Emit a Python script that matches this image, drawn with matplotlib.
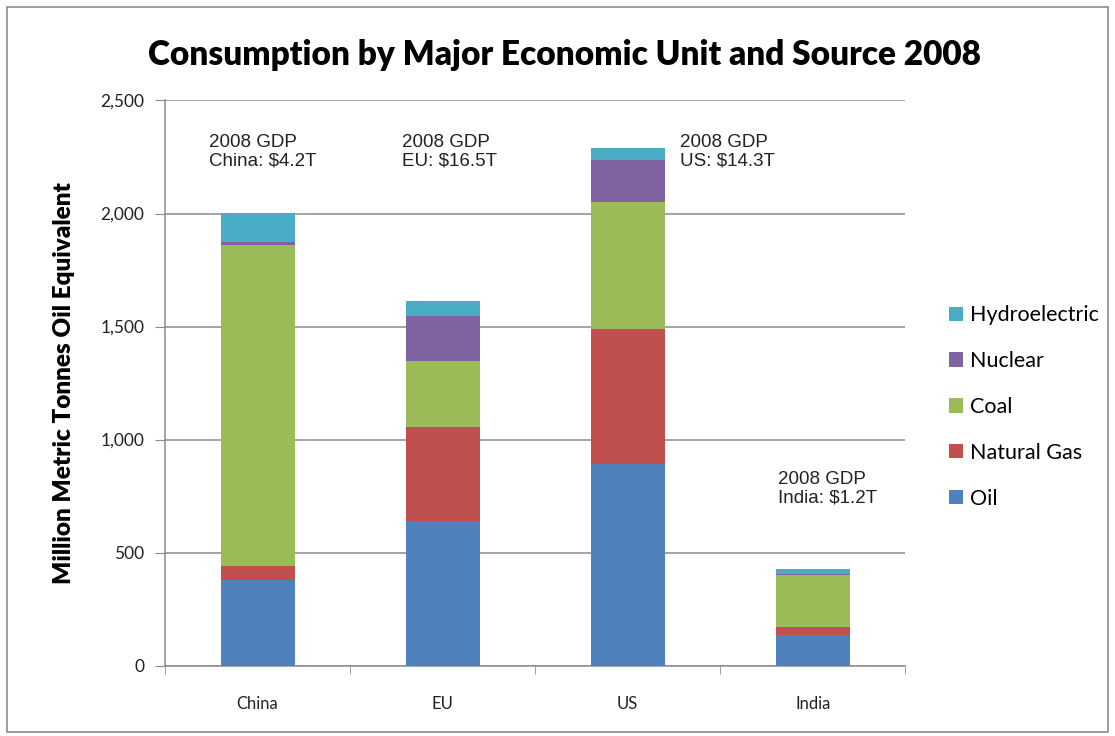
import matplotlib.pyplot as plt
from matplotlib.patches import Rectangle
import numpy as np

plt.rcParams['font.family'] = ['Lato', 'DejaVu Sans']

units = ["China", "EU", "US", "India"]
sources = ["Oil", "Natural Gas", "Coal", "Nuclear", "Hydroelectric"]
oil = [379, 640, 890, 135]
natural_gas = [63, 416, 600, 36]
coal = [1418, 293, 560, 231]
nuclear = [15, 199, 187, 4]
hydro = [127, 66, 53, 22]
gdp_notes = ["2008 GDP\nChina: $4.2T", "2008 GDP\nEU: $16.5T",
             "2008 GDP\nUS: $14.3T", "2008 GDP\nIndia: $1.2T"]
note_x = [-0.26, 0.78, 2.28, 2.81]
note_y = [2350, 2350, 2350, 860]

colors = ["#4F81BD", "#C0504D", "#9BBB59", "#8064A2", "#4BACC6"]
series = [oil, natural_gas, coal, nuclear, hydro]

fig = plt.figure(figsize=(11.15, 7.36), dpi=100)
fig.patches.append(Rectangle((0.006, 0.006), 0.988, 0.985, transform=fig.transFigure,
                             fill=False, edgecolor="#8c8c8c", linewidth=1.2))
ax = fig.add_axes([0.148, 0.0955, 0.664, 0.768])

x = np.arange(len(units))
bottom = np.zeros(len(units))
bars = []
for vals, name, col in zip(series, sources, colors):
    b = ax.bar(x, vals, width=0.4, bottom=bottom, color=col, label=name, zorder=3)
    bars.append(b)
    bottom += np.array(vals)

ax.set_xlim(-0.5, 3.5)
ax.set_ylim(0, 2500)
ax.set_yticks(range(0, 2501, 500))
ax.set_yticklabels([f"{v:,}" for v in range(0, 2501, 500)], fontsize=12.5, color="#222222")
ax.yaxis.grid(True, color="#8c8c8c", linewidth=1.1, zorder=0)
ax.set_xticks(x)
ax.set_xticklabels(units, fontsize=12, color="#222222")
ax.set_xticks(np.arange(-0.5, 4, 1), minor=True)
ax.tick_params(axis="x", which="major", length=0, pad=22)
ax.tick_params(axis="x", which="minor", length=6, color="#8c8c8c", direction="out")
ax.tick_params(axis="y", length=7, color="#8c8c8c", direction="out", pad=8)
for s in ["top", "right"]:
    ax.spines[s].set_visible(False)
for s in ["left", "bottom"]:
    ax.spines[s].set_color("#8c8c8c")
    ax.spines[s].set_linewidth(1.1)

ax.set_ylabel("Million Metric Tonnes Oil Equivalent", fontsize=17.5, fontweight="heavy", labelpad=18)
fig.text(0.506, 0.925, "Consumption by Major Economic Unit and Source 2008",
         ha="center", va="center", fontsize=24, fontweight="heavy")

for t, nx, ny in zip(gdp_notes, note_x, note_y):
    ax.text(nx, ny, t, ha="left", va="top", fontsize=13.5,
            family=["Liberation Sans", "DejaVu Sans"], color="#222222", linespacing=1.1)

handles = bars[::-1]
labels = sources[::-1]
fig.legend(handles, labels, loc="center left", bbox_to_anchor=(0.834, 0.447),
           frameon=False, fontsize=15.5, handlelength=0.65, handleheight=0.65,
           handletextpad=0.3, labelspacing=1.2)

fig.savefig("out.png", dpi=100)
